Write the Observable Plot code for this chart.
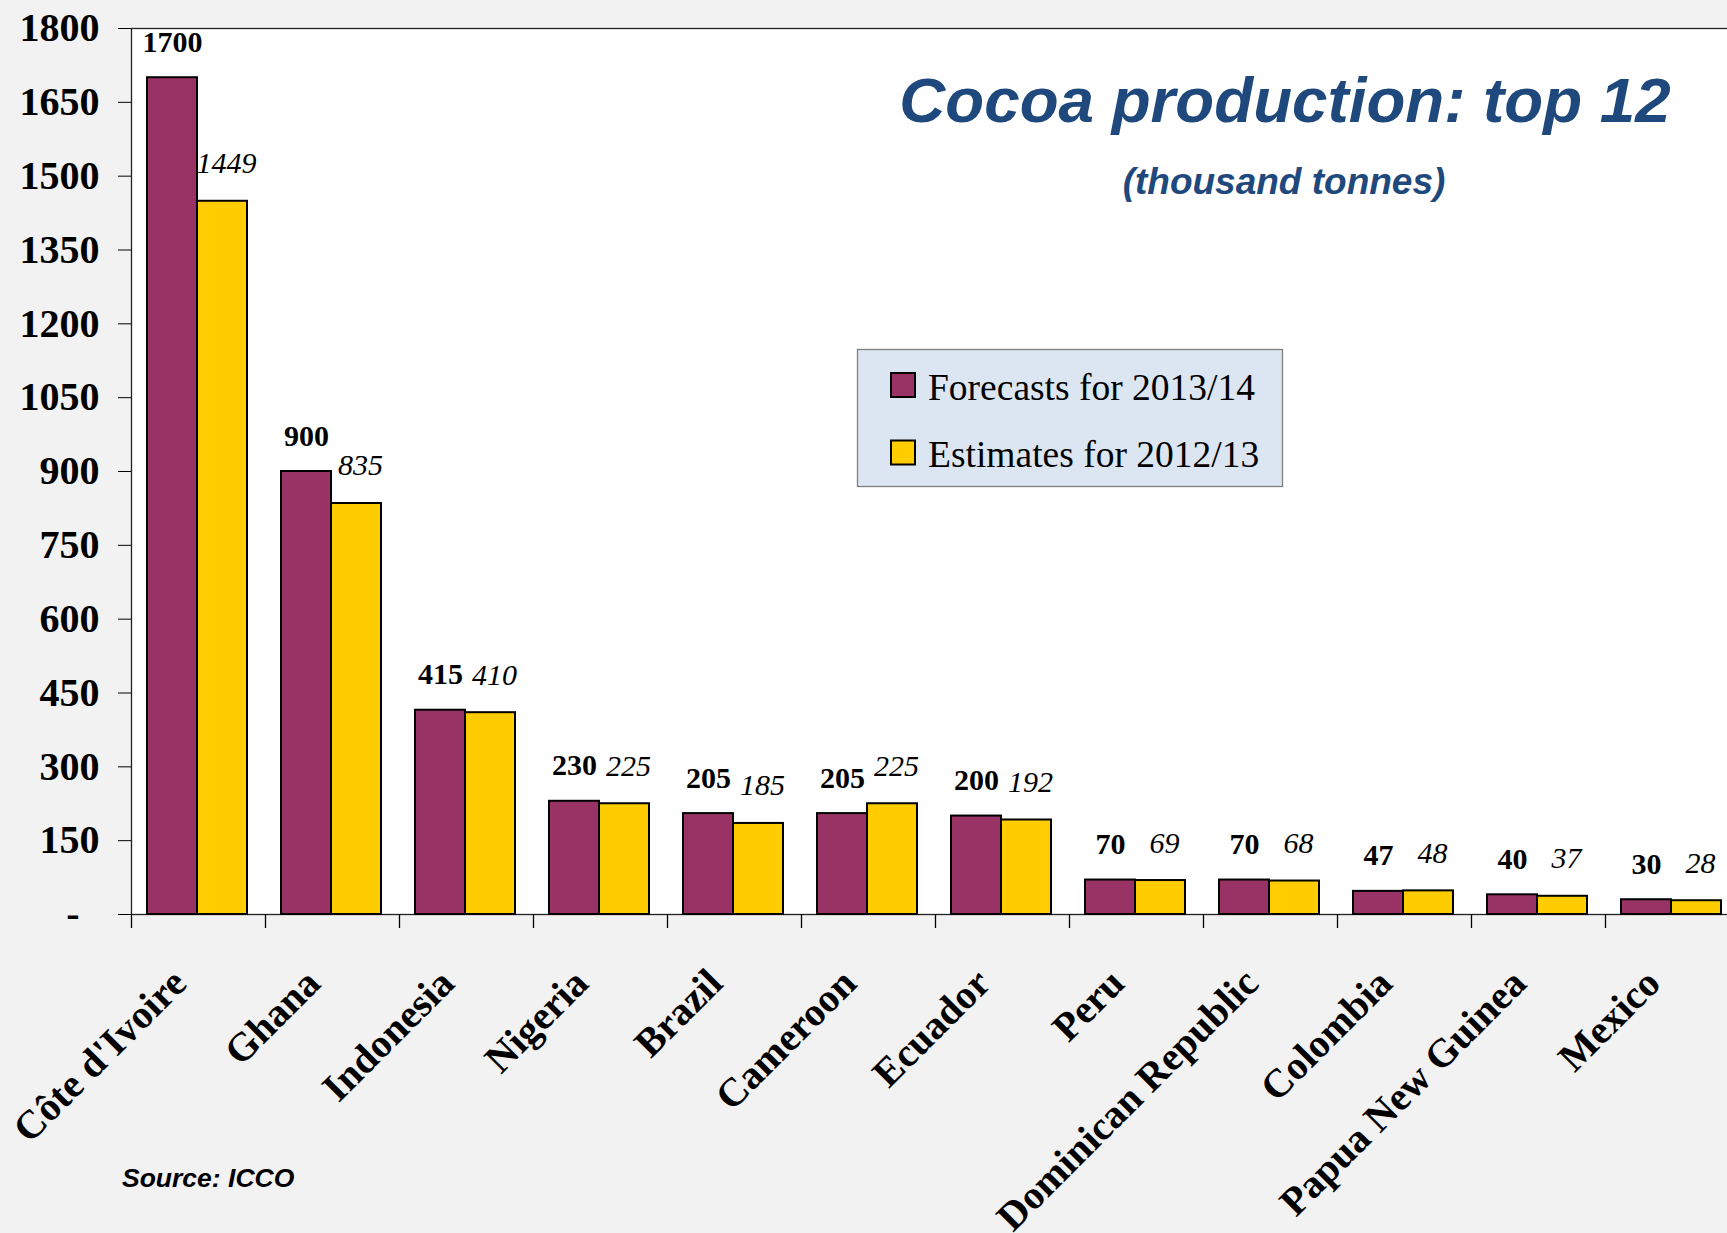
<!DOCTYPE html>
<html>
<head>
<meta charset="utf-8">
<script src="https://cdn.jsdelivr.net/npm/d3@7"></script>
<script src="https://cdn.jsdelivr.net/npm/@observablehq/plot@0.6"></script>
<style>
  html, body { margin: 0; padding: 0; background: #f2f2f2; }
  #chart { width: 1727px; height: 1233px; overflow: hidden; }
</style>
</head>
<body>
<div id="chart"></div>
<script>
const countries = ["Côte d'Ivoire", "Ghana", "Indonesia", "Nigeria", "Brazil", "Cameroon", "Ecuador", "Peru", "Dominican Republic", "Colombia", "Papua New Guinea", "Mexico"];
const forecasts = [1700, 900, 415, 230, 205, 205, 200, 70, 70, 47, 40, 30];
const estimates = [1449, 835, 410, 225, 185, 225, 192, 69, 68, 48, 37, 28];
const yTicks = [0, 150, 300, 450, 600, 750, 900, 1050, 1200, 1350, 1500, 1650, 1800];
const seriesNames = ["Forecasts for 2013/14", "Estimates for 2012/13"];
const seriesColors = ["#993366", "#FFCC00"];

const rows = countries.map((c, i) => ({country: c, forecast: forecasts[i], estimate: estimates[i]}));

const serif = "'Liberation Serif', 'Times New Roman', serif";
const sans = "'Liberation Sans', Arial, sans-serif";

const chart = Plot.plot({
  width: 1727,
  height: 1233,
  marginTop: 28,
  marginLeft: 131,
  marginRight: -12,
  marginBottom: 319,
  style: {background: "#f2f2f2", fontFamily: serif, fontSize: "40px", fontWeight: "bold", color: "#000", overflow: "hidden"},
  x: {domain: countries, padding: 0, axis: null},
  y: {
    domain: [0, 1800],
    ticks: yTicks,
    tickSize: 13,
    tickPadding: 19,
    tickFormat: d => d === 0 ? "-\u00a0\u00a0" : String(d),
    label: null
  },
  marks: [
    Plot.frame({fill: "white", stroke: "#222", strokeWidth: 1.3}),
    Plot.barY(rows, {x: "country", y: "forecast", fill: seriesColors[0], stroke: "#000", strokeWidth: 2, insetLeft: 16, insetRight: 68}),
    Plot.barY(rows, {x: "country", y: "estimate", fill: seriesColors[1], stroke: "#000", strokeWidth: 2, insetLeft: 66, insetRight: 18}),
    Plot.ruleX(countries, {x: d => d, y1: 0, y2: 0, insetBottom: -14, dx: -67, stroke: "#000", strokeWidth: 1.3}),
    Plot.text(rows, {x: "country", y: "forecast", text: d => String(d.forecast), dx: -26, dy: -26, lineAnchor: "bottom", fontSize: 30, fontWeight: "bold", fontFamily: serif, fill: "#000"}),
    Plot.text(rows, {x: "country", y: "estimate", text: d => String(d.estimate), dx: 28, dy: -28, lineAnchor: "bottom", fontSize: 30, fontWeight: "normal", fontStyle: "italic", fontFamily: serif, fill: "#000"}),
    Plot.text(countries, {x: d => d, frameAnchor: "bottom", text: d => d, rotate: -45, textAnchor: "end", lineAnchor: "bottom", dx: -10, dy: 71, fontSize: 40, fontWeight: "bold", fontFamily: serif, fill: "#000"})
  ]
});

document.getElementById("chart").appendChild(chart);

// Title, subtitle, legend and source inside the same SVG
const svg = d3.select(chart);
const g = svg.append("g").attr("text-anchor", "start");
g.append("text").attr("x", 1285).attr("y", 122).attr("text-anchor", "middle")
  .attr("font-family", sans).attr("font-size", 63.7).attr("font-weight", "bold").attr("font-style", "italic")
  .attr("fill", "#1F497D").text("Cocoa production: top 12");
g.append("text").attr("x", 1284).attr("y", 194).attr("text-anchor", "middle")
  .attr("font-family", sans).attr("font-size", 37).attr("font-weight", "bold").attr("font-style", "italic")
  .attr("fill", "#1F497D").text("(thousand tonnes)");

const lg = g.append("g");
lg.append("rect").attr("x", 857.5).attr("y", 349.5).attr("width", 425).attr("height", 137)
  .attr("fill", "#DCE6F2").attr("stroke", "#7f7f7f").attr("stroke-width", 1.3);
seriesNames.forEach((name, i) => {
  const yTop = 373 + i * 67.5;
  lg.append("rect").attr("x", 891).attr("y", yTop).attr("width", 24).attr("height", 24)
    .attr("fill", seriesColors[i]).attr("stroke", "#000").attr("stroke-width", 2);
  lg.append("text").attr("x", 928).attr("y", yTop + 26.5).attr("text-anchor", "start")
    .attr("font-family", serif).attr("font-size", 37.5).attr("font-weight", "normal")
    .attr("fill", "#000").text(name);
});

g.append("text").attr("x", 122).attr("y", 1187).attr("text-anchor", "start")
  .attr("font-family", sans).attr("font-size", 26.5).attr("font-weight", "bold").attr("font-style", "italic")
  .attr("fill", "#000").text("Source: ICCO");
</script>
</body>
</html>
